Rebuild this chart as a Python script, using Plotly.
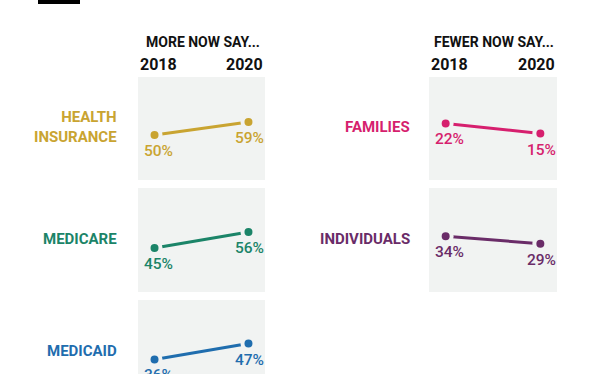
import plotly.graph_objects as go

# ---- data ----
years = ["2018", "2020"]
categories = ["HEALTH<br>INSURANCE", "MEDICARE", "MEDICAID", "FAMILIES", "INDIVIDUALS"]
values_2018 = [50, 45, 36, 22, 34]
values_2020 = [59, 56, 47, 15, 29]
colors = ["#C9A431", "#1B8468", "#1F6DAE", "#D61F6E", "#6A2C68"]
headers = ["MORE NOW SAY...", "FEWER NOW SAY..."]

W, H = 612, 374
PANEL_BG = "#F1F3F2"
FONT = "Roboto"

# panel placement (pixels): column x-extents, row y-extents
col_x = [(138, 265), (429, 557)]
row_y = [(77, 180), (188, 292), (300, 403)]
panel_pos = [(0, 0), (0, 1), (0, 2), (1, 0), (1, 1)]  # (col, row)
label_right = [119, 412]

HALF = 35.5  # half of y-range in percentage points for a full panel
XPAD = 0.176

def px(x):
    return x / W

def py(y):
    return 1 - y / H

fig = go.Figure()
layout_axes = {}
annotations = []

for i, cat in enumerate(categories):
    c, r = panel_pos[i]
    x0, x1 = col_x[c]
    y0, y1 = row_y[r]
    mean = (values_2018[i] + values_2020[i]) / 2
    top = mean + HALF
    full_h = y1 - y0
    vis_y1 = min(y1, H)
    bottom = top - 2 * HALF * (vis_y1 - y0) / full_h
    n = i + 1
    xa = "xaxis" if n == 1 else f"xaxis{n}"
    ya = "yaxis" if n == 1 else f"yaxis{n}"
    xref = "x" if n == 1 else f"x{n}"
    yref = "y" if n == 1 else f"y{n}"
    layout_axes[xa] = dict(domain=[px(x0), px(x1)], range=[-XPAD, 1 + XPAD],
                           visible=False, fixedrange=True, anchor=yref)
    layout_axes[ya] = dict(domain=[max(0, py(vis_y1)), py(y0)], range=[bottom, top],
                           visible=False, fixedrange=True, anchor=xref)
    vals = [values_2018[i], values_2020[i]]
    fig.add_trace(go.Scatter(
        x=[0, 1], y=vals, xaxis=xref, yaxis=yref, mode="lines+markers",
        line=dict(color=colors[i], width=3),
        marker=dict(size=12, color=colors[i], line=dict(color=PANEL_BG, width=4)),
        hoverinfo="skip", showlegend=False, cliponaxis=False,
    ))
    for j, v in enumerate(vals):
        annotations.append(dict(
            x=j, y=v, xref=xref, yref=yref, text=f"{v}%", showarrow=False,
            xanchor="center", yanchor="top", yshift=-5, xshift=4 if j == 0 else 1,
            font=dict(family=FONT, size=15.5, color=colors[i], weight=500),
        ))
    # category label
    annotations.append(dict(
        x=px(label_right[c]), y=py((y0 + y1) / 2 - 1), xref="paper", yref="paper",
        text=f"<b>{cat}</b>", showarrow=False, xanchor="right", yanchor="middle",
        align="right", font=dict(family=FONT, size=15, color=colors[i]),
    ))

# column headers and year labels
for c, (x0, x1) in enumerate(col_x):
    annotations.append(dict(
        x=px((x0 + x1) / 2 + 1), y=py(42), xref="paper", yref="paper",
        text=f"<b>{headers[c]}</b>", showarrow=False, xanchor="center", yanchor="middle",
        font=dict(family=FONT, size=14, color="#111111"),
    ))
    annotations.append(dict(
        x=px(x0), y=py(64), xref="paper", yref="paper", text=f"<b>{years[0]}</b>",
        showarrow=False, xanchor="left", yanchor="middle",
        font=dict(family=FONT, size=16, color="#111111"),
    ))
    annotations.append(dict(
        x=px(x1), y=py(64), xref="paper", yref="paper", text=f"<b>{years[1]}</b>",
        showarrow=False, xanchor="right", yanchor="middle",
        font=dict(family=FONT, size=16, color="#111111"),
    ))

fig.update_layout(
    width=W, height=H, margin=dict(l=0, r=0, t=0, b=0),
    paper_bgcolor="white", plot_bgcolor=PANEL_BG,
    annotations=annotations, showlegend=False,
    shapes=[dict(type="rect", xref="paper", yref="paper", x0=px(38), x1=px(80),
                 y0=py(4), y1=1, fillcolor="black", line=dict(width=0), layer="above")],
    **layout_axes,
)

fig.write_html("out.html", config={"displayModeBar": False},
               post_script="document.body.style.margin='0';document.body.style.overflow='hidden';")
